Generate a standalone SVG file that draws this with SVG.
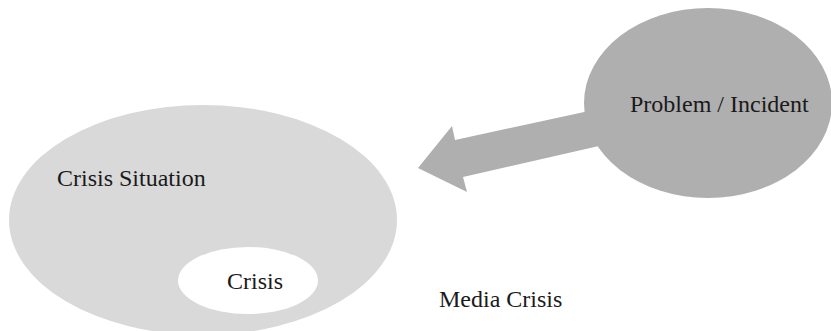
<svg xmlns="http://www.w3.org/2000/svg" width="831" height="331" viewBox="0 0 831 331">
  <style>
    .lbl { font-family: "Liberation Serif", "Times New Roman", serif; font-size: 24px; fill: #1a1a1a; }
    .light { fill: #d9d9d9; }
    .dark { fill: #afafaf; }
  </style>
  <rect width="831" height="331" fill="#ffffff"/>
  <g id="connectors">
    <polygon class="dark" points="612,143 463,177 467,192 418,168 452,126 455,140 612,106"/>
  </g>
  <g id="crisis-situation">
    <ellipse class="light" cx="203" cy="220" rx="194" ry="115"/>
    <text class="lbl" x="57" y="186">Crisis Situation</text>
  </g>
  <g id="crisis">
    <ellipse fill="#ffffff" cx="248" cy="280.5" rx="70" ry="33.5"/>
    <text class="lbl" x="227" y="289">Crisis</text>
  </g>
  <g id="problem-incident">
    <ellipse class="dark" cx="708" cy="103" rx="124" ry="95"/>
    <text class="lbl" x="630" y="112">Problem / Incident</text>
  </g>
  <g id="media-crisis">
    <text class="lbl" x="439" y="307">Media Crisis</text>
  </g>
</svg>
